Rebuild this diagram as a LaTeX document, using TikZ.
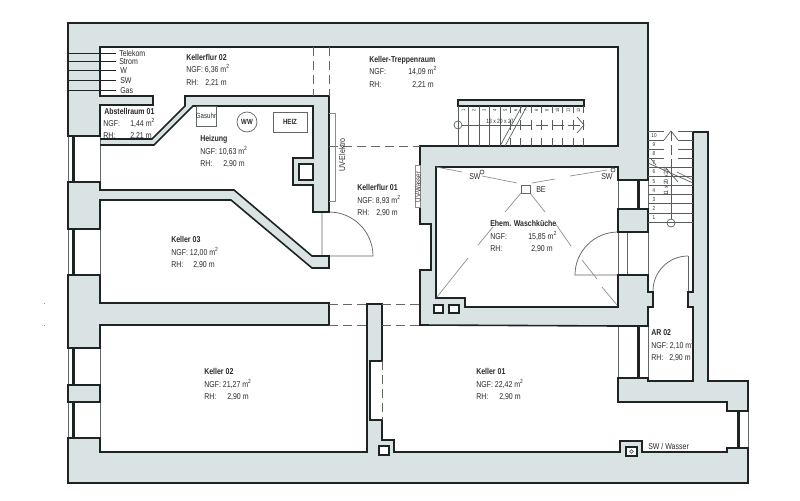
\documentclass[tikz,border=0pt]{standalone}
\usepackage{fontspec}
\setmainfont{Liberation Sans}[FakeStretch=0.82]
\definecolor{wallfill}{HTML}{D9E3E3}
\definecolor{ink}{HTML}{1E2424}
\definecolor{txt}{HTML}{2A2A2A}
\newcommand{\qm}{m\textsuperscript{2}}
\tikzset{
  wallgray/.style={fill=wallfill,draw=none},
  roomwhite/.style={fill=white,draw=none},
  wall/.style={draw=ink,line width=1.2pt,line join=miter},
  thinline/.style={draw=ink!70,line width=.55pt},
  panebar/.style={fill=ink,draw=none},
  hair/.style={draw=black!45,line width=.5pt},
  openline/.style={draw=black!60,line width=.7pt,dash pattern=on 7pt off 3.5pt},
  tl/.style={anchor=base west,inner sep=0pt,text=txt,font=\fontsize{6.4}{7}\selectfont},
  tb/.style={tl,font=\fontsize{6.4}{7}\selectfont\bfseries},
  tiny/.style={anchor=center,inner sep=0pt,text=txt,font=\fontsize{3.6}{4}\selectfont},
  stair/.style={draw=ink!75,line width=.5pt}
}
\begin{document}
\begin{tikzpicture}[x=0.75pt,y=-0.75pt]
\useasboundingbox (0,0) rectangle (800,500);
\fill[white] (0,0) rectangle (800,500);
% footprint
\path[wallgray] (68,23)--(648,23)--(648,132)--(708,132)--(708,381)--(748,381)--(748,483)--(68,483)--cycle;
% white rooms
\path[roomwhite] (100,47)--(618,47)--(618,146)--(420,146)--(420,224)--(431,224)--(431,270)--(420,270)--(420,325)--(618,325)--(618,402)--(727,402)--(727,411)--(748,411)--(748,448)--(727,448)--(727,452)--(642,452)--(642,441)--(620,441)--(620,452)--(100,452)--cycle;
\path[roomwhite] (436,167)--(618,167)--(618,180)--(648,180)--(648,209)--(618,209)--(618,232)--(648,232)--(648,275)--(618,275)--(618,307)--(465,307)--(465,298)--(436,298)--cycle;
\path[roomwhite] (648,132)--(693,132)--(693,292)--(688,292)--(688,307)--(693,307)--(693,381)--(648,381)--(648,307)--(653,307)--(653,292)--(648,292)--cycle;
\path[roomwhite] (618,326) rectangle (648,378);
\path[roomwhite] (68,136) rectangle (100,182);
\path[roomwhite] (68,229) rectangle (100,275);
\path[roomwhite] (68,348) rectangle (100,385);
\path[roomwhite] (68,402) rectangle (100,438);
% interior wall fills
\path[wallgray] (100,96)--(153,96)--(153,105)--(100,105)--cycle;
\path[wallgray] (100,139)--(152,139)--(185,106)--(185,96)--(329,96)--(329,212)--(313,212)--(313,185)--(293,185)--(293,158)--(313,158)--(313,106)--(193,106)--(154,145)--(100,145)--cycle;
\path[wallgray] (100,190)--(234,190)--(312,256)--(329,256)--(329,268)--(312,268)--(231,200)--(100,200)--cycle;
\path[wallgray] (100,303)--(329,303)--(329,325)--(100,325)--cycle;
\path[wallgray] (367,304)--(382,304)--(382,361)--(370,361)--(370,420)--(382,420)--(382,440)--(394,440)--(394,452)--(367,452)--cycle;
% thin window and door lines
\foreach \ya/\yb in {136/182,229/275,348/385,402/438}{
  \draw[thinline] (68,\ya)--(68,\yb);
  \draw[thinline] (100,\ya)--(100,\yb);
  \path[panebar] (71.5,\ya) rectangle (74.5,\yb);
}
\draw[thinline] (618,180)--(618,209) (648,180)--(648,209);
\path[panebar] (636.5,180) rectangle (639.5,209);
\draw[thinline] (618,326)--(618,378) (648,326)--(648,378);
\path[panebar] (636.5,326) rectangle (639.5,378);
\draw[thinline] (748,411)--(748,448);
\path[panebar] (736.5,411) rectangle (739.5,448);
\draw[thinline] (618,232)--(618,275) (648,232)--(648,275) (627,232)--(627,275);
\draw[thinline] (618,275)--(575,275) arc[start angle=180,end angle=270,radius=43];
\draw[thinline] (322,212)--(322,256) (329,256)--(373,256) arc[start angle=0,end angle=-90,radius=44];
\draw[thinline] (688,292)--(688,256);
\draw[thinline] (688,256) arc[start angle=270,end angle=180,radius=35];
% walls
\draw[wall] (68,136)--(68,23)--(648,23)--(648,180)--(618,180)--(618,167)--(436,167)--(436,298)--(465,298)--(465,307)--(618,307)--(618,275)--(648,275)--(648,292)--(653,292)--(653,307)--(648,307)--(648,326)--(618,326)--(420,325)--(420,270)--(431,270)--(431,224)--(420,224)--(420,146)--(618,146)--(618,47)--(100,47)--(100,96)--(153,96)--(153,105)--(100,105)--(100,136)--cycle;
\draw[wall] (618,209) rectangle (648,232);
\draw[wall] (618,378)--(648,378)--(648,381)--(693,381)--(693,307)--(688,307)--(688,292)--(693,292)--(693,132)--(708,132)--(708,381)--(748,381)--(748,411)--(727,411)--(727,402)--(618,402)--cycle;
\draw[wall] (748,448)--(727,448)--(727,452)--(642,452)--(642,441)--(620,441)--(620,452)--(394,452)--(394,440)--(382,440)--(382,420)--(370,420)--(370,361)--(382,361)--(382,304)--(367,304)--(367,452)--(100,452)--(100,438)--(68,438)--(68,483)--(748,483)--cycle;
\draw[wall] (100,325)--(100,348)--(68,348)--(68,275)--(100,275)--(100,303)--(329,303)--(329,325)--cycle;
\draw[wall] (68,385)--(100,385)--(100,402)--(68,402)--cycle;
\draw[wall] (100,139)--(152,139)--(185,106)--(185,96)--(329,96)--(329,212)--(313,212)--(313,185)--(293,185)--(293,158)--(313,158)--(313,106)--(193,106)--(154,145)--(100,145);
\draw[wall] (68,229)--(68,182)--(100,182)--(100,190)--(234,190)--(312,256)--(329,256)--(329,268)--(312,268)--(231,200)--(100,200)--(100,229)--cycle;
% chimneys
\draw[wall,fill=white] (299,164) rectangle (313,180);
\draw[wall,fill=white] (434,305) rectangle (443,313);
\draw[wall,fill=white] (449,305) rectangle (459,313);
\draw[wall,fill=white] (379,446) rectangle (389,455);
\draw[wall,fill=white] (626,447) rectangle (637,456);
\draw[thinline] (631.5,451.5) circle[radius=1.8];
% openings
\draw[openline] (329,304)--(367,304) (382,304)--(420,304);
\draw[openline] (329,325)--(367,325) (382,325)--(420,325);
\draw[openline] (329,146)--(420,146);
\draw[openline] (313,47)--(313,96) (329,47)--(329,96);
\draw[openline] (382,361)--(382,420);
% supply lines
\foreach \yy in {53,61,70,80,90}{\draw[ink,line width=.5pt] (68,\yy)--(116,\yy);}
% equipment
\draw[thinline] (196,106) rectangle (216,126);
\draw[thinline] (247,122) circle[radius=10];
\draw[thinline] (273,112) rectangle (307,132);
\draw[hair] (329,113)--(335,113)--(335,201)--(329,201);
\draw[hair,fill=white] (415,165) rectangle (420,207);
% Waschkueche sight lines
\draw[hair] (436,167)--(462,172) (482,176)--(517,183) (532,183)--(555,179) (570,176)--(607,170);
\draw[hair] (521,193)--(505,212) (530,193)--(545,212);
\draw[hair] (493,227)--(478,245) (468,258)--(437,297);
\draw[hair] (555,223)--(571,246) (582,260)--(597,279) (602,287)--(617,305);
\draw[thinline] (521,185) rectangle (530,193);
\draw[thinline] (482,172) circle[radius=2];
\draw[thinline] (613,170) circle[radius=2];
% main stair
\draw[wall,line width=.9pt,fill=wallfill] (458,100) rectangle (584,106);
\foreach \i in {0,...,4}{\draw[stair] ({458+10.47*\i},106)--({458+10.47*\i},146);}
\foreach \i in {5,...,12}{
  \draw[stair] ({458+10.47*\i},106)--({458+10.47*\i},113);
  \draw[stair] ({458+10.47*\i},120)--({458+10.47*\i},130);
  \draw[stair] ({458+10.47*\i},138)--({458+10.47*\i},146);
}
\draw[stair] (462,125)--(520,125);
\draw[stair,dash pattern=on 9pt off 3pt] (520,125)--(584,125);
\draw[stair] (577,117)--(584,125)--(577,133);
\draw[stair] (458,125) circle[radius=4];
\draw[stair] (522,106)--(500,146) (527,106)--(505,146);
\foreach \n in {1,...,12}{
  \node[tiny,rotate=90] (mainstep\n) at ({458+10.47*\n-5.2},110) {\n};
}
\node[tiny,font=\fontsize{4.6}{5}\selectfont] (mainrun) at (500,121) {13 x 20 x 27};
% side stair
\foreach \k in {0,...,3}{\draw[stair] (648,{131+9.1*\k})--(664,{131+9.1*\k}) (678,{131+9.1*\k})--(693,{131+9.1*\k});}
\foreach \k in {4,...,10}{\draw[stair] (648,{131+9.1*\k})--(693,{131+9.1*\k});}
\draw[stair] (671,219)--(671,170);
\draw[stair,dash pattern=on 8pt off 3pt] (671,170)--(671,131);
\draw[stair] (664,140)--(671,131)--(678,140);
\draw[stair] (671,223) circle[radius=4];
\draw[stair] (648,163)--(693,183) (677,172)--(693,180) (651,159)--(656,165) (665,167)--(678,182);
\foreach \n [evaluate=\n as \yy using {131+9.1*(10-\n)+4.6}] in {1,...,10}{
  \node[tiny,font=\fontsize{4.2}{5}\selectfont] (sidestep\n) at (654,\yy) {\n};
}
\node[tiny,rotate=90,font=\fontsize{4.6}{5}\selectfont] (siderun) at (666,182) {11 x 20 x 27};
% lines legend
\node[tl] (lgA) at (119,56) {Telekom};
\node[tl] (lgB) at (119,64) {Strom};
\node[tl] (lgC) at (120,73) {W};
\node[tl] (lgD) at (120,83) {SW};
\node[tl] (lgE) at (120,93) {Gas};
% room labels
\node[tb] (kf2) at (186,60) {Kellerflur 02};
\node[tl] (kf2a) at (186,72) {NGF: 6,36 \qm};
\node[tl] (kf2b) at (186,85) {RH:};
\node[tl] (kf2c) at (205,85) {2,21 m};
\node[tb] (ab1) at (104,114) {Abstellraum 01};
\node[tl] (ab1a) at (103,126) {NGF:};
\node[tl] (ab1b) at (130,126) {1,44 \qm};
\node[tl] (ab1c) at (103,138) {RH:};
\node[tl] (ab1d) at (130,138) {2,21 m};
\node[tb] (hz) at (200,141) {Heizung};
\node[tl] (hza) at (200,154) {NGF: 10,63 \qm};
\node[tl] (hzb) at (200,166) {RH:};
\node[tl] (hzc) at (223,166) {2,90 m};
\node[tb] (tr) at (369,62) {Keller-Treppenraum};
\node[tl] (tra) at (369,74) {NGF:};
\node[tl] (trb) at (408,74) {14,09 \qm};
\node[tl] (trc) at (369,87) {RH:};
\node[tl] (trd) at (412,87) {2,21 m};
\node[tb] (kf1) at (357,190) {Kellerflur 01};
\node[tl] (kf1a) at (357,203) {NGF: 8,93 \qm};
\node[tl] (kf1b) at (357,215) {RH:};
\node[tl] (kf1c) at (376,215) {2,90 m};
\node[tb] (k3) at (171,242) {Keller 03};
\node[tl] (k3a) at (171,255) {NGF: 12,00 \qm};
\node[tl] (k3b) at (171,267) {RH:};
\node[tl] (k3c) at (193,267) {2,90 m};
\node[tb] (k2) at (204,374) {Keller 02};
\node[tl] (k2a) at (204,387) {NGF: 21,27 \qm};
\node[tl] (k2b) at (204,399) {RH:};
\node[tl] (k2c) at (227,399) {2,90 m};
\node[tb] (k1) at (476,374) {Keller 01};
\node[tl] (k1a) at (476,387) {NGF: 22,42 \qm};
\node[tl] (k1b) at (476,399) {RH:};
\node[tl] (k1c) at (499,399) {2,90 m};
\node[tb] (wk) at (490,226) {Ehem. Waschküche};
\node[tl] (wka) at (490,239) {NGF:};
\node[tl] (wkb) at (528,239) {15,85 \qm};
\node[tl] (wkc) at (490,251) {RH:};
\node[tl] (wkd) at (531,251) {2,90 m};
\node[tb] (ar) at (651,335) {AR 02};
\node[tl] (ara) at (651,348) {NGF: 2,10 \qm};
\node[tl] (arb) at (651,360) {RH:};
\node[tl] (arc) at (669,360) {2,90 m};
\node[tl] (sww) at (648,449) {SW / Wasser};
\node[tl] (swl) at (469,179) {SW};
\node[tl] (swr) at (601,179) {SW};
\node[tl] (be) at (536,192) {BE};
\node[tl,font=\fontsize{5.6}{6}\selectfont,anchor=center] (gas) at (206,116) {Gasuhr};
\node[tl,anchor=center,font=\fontsize{5.6}{6}\selectfont\bfseries] (ww) at (247,122) {WW};
\node[tl,anchor=center,font=\fontsize{5.6}{6}\selectfont\bfseries] (heiz) at (290,122) {HEIZ};
\node[tl,anchor=center,rotate=90] (uve) at (342,155) {UV-Elektro};
\node[tl,anchor=center,rotate=90,font=\fontsize{5.6}{6}\selectfont] (uvw) at (418,187) {UV-Wasser};
% stray marks
\fill[black!45] (43.5,303) rectangle (45,304);
\fill[black!45] (43.5,325) rectangle (45,326);
\end{tikzpicture}
\end{document}
